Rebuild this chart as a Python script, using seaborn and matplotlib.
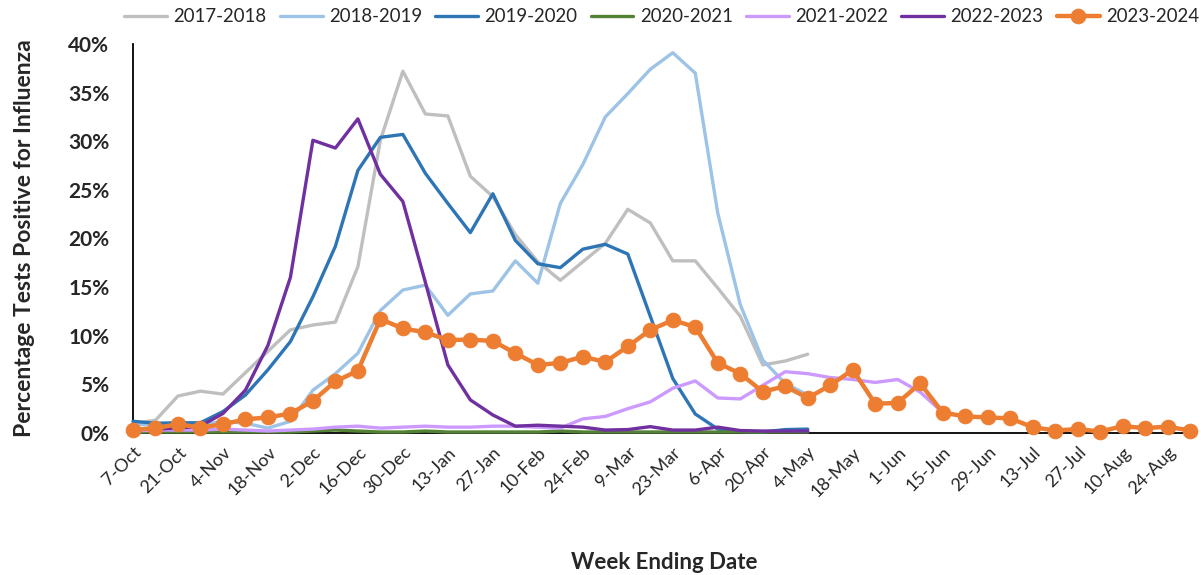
import numpy as np
import pandas as pd
import matplotlib
matplotlib.use("Agg")
import matplotlib.pyplot as plt
import seaborn as sns

weeks = ["7-Oct", "14-Oct", "21-Oct", "28-Oct", "4-Nov", "11-Nov", "18-Nov", "25-Nov",
         "2-Dec", "9-Dec", "16-Dec", "23-Dec", "30-Dec", "6-Jan", "13-Jan", "20-Jan",
         "27-Jan", "3-Feb", "10-Feb", "17-Feb", "24-Feb", "2-Mar", "9-Mar", "16-Mar",
         "23-Mar", "30-Mar", "6-Apr", "13-Apr", "20-Apr", "27-Apr", "4-May", "11-May",
         "18-May", "25-May", "1-Jun", "8-Jun", "15-Jun", "22-Jun", "29-Jun", "6-Jul",
         "13-Jul", "20-Jul", "27-Jul", "3-Aug", "10-Aug", "17-Aug", "24-Aug", "31-Aug"]

s2017_2018 = [1.0, 1.3, 3.8, 4.3, 4.0, 6.2, 8.4, 10.6, 11.1, 11.4, 17.1, 30.1, 37.2, 32.8,
              32.6, 26.4, 24.3, 20.4, 17.6, 15.7, 17.6, 19.5, 23.0, 21.6, 17.7, 17.7, 14.9,
              12.0, 7.0, 7.4, 8.1]
s2018_2019 = [0.9, 0.8, 0.7, 0.8, 1.2, 1.0, 0.5, 1.2, 4.4, 6.1, 8.2, 12.6, 14.7, 15.2,
              12.1, 14.3, 14.6, 17.7, 15.4, 23.6, 27.6, 32.5, 34.9, 37.4, 39.1, 37.0, 22.6,
              13.2, 7.5, 5.1, 3.9]
s2019_2020 = [1.2, 1.0, 1.05, 1.05, 2.2, 3.9, 6.5, 9.4, 14.0, 19.2, 27.0, 30.4, 30.7, 26.7,
              23.6, 20.6, 24.6, 19.8, 17.4, 17.0, 18.9, 19.4, 18.4, 12.0, 5.6, 1.95, 0.4,
              0.15, 0.1, 0.35, 0.4]
s2020_2021 = [0.1, 0.1, 0.1, 0.1, 0.1, 0.1, 0.1, 0.1, 0.2, 0.3, 0.2, 0.1, 0.1, 0.2, 0.1,
              0.1, 0.1, 0.1, 0.1, 0.2, 0.1, 0.1, 0.1, 0.1, 0.1, 0.1, 0.1, 0.1, 0.1, 0.1, 0.1]
s2021_2022 = [0.2, 0.3, 0.3, 0.3, 0.4, 0.3, 0.2, 0.3, 0.4, 0.6, 0.7, 0.5, 0.6, 0.7, 0.6,
              0.6, 0.7, 0.7, 0.6, 0.5, 1.45, 1.7, 2.5, 3.2, 4.6, 5.35, 3.6, 3.5, 4.9, 6.3,
              6.1, 5.7, 5.5, 5.2, 5.5, 4.2, 2.1]
s2022_2023 = [0.4, 0.4, 0.5, 0.7, 2.0, 4.4, 9.0, 16.0, 30.1, 29.3, 32.3, 26.6, 23.8, 15.5,
              7.0, 3.4, 1.85, 0.7, 0.8, 0.7, 0.6, 0.3, 0.35, 0.65, 0.3, 0.3, 0.6, 0.25,
              0.2, 0.2, 0.2]
s2023_2024 = [0.3, 0.5, 0.9, 0.55, 0.9, 1.4, 1.6, 2.0, 3.3, 5.3, 6.4, 11.7, 10.75, 10.35,
              9.56, 9.6, 9.46, 8.2, 7.0, 7.2, 7.85, 7.3, 8.9, 10.6, 11.6, 10.9, 7.2, 6.1,
              4.25, 4.8, 3.6, 4.9, 6.5, 3.0, 3.1, 5.1, 2.1, 1.7, 1.6, 1.5, 0.6, 0.25, 0.4,
              0.15, 0.7, 0.5, 0.65, 0.25]

seasons = ["2017-2018", "2018-2019", "2019-2020", "2020-2021", "2021-2022", "2022-2023", "2023-2024"]
season_values = [s2017_2018, s2018_2019, s2019_2020, s2020_2021, s2021_2022, s2022_2023, s2023_2024]
colors = ["#BFBFBF", "#9DC3E6", "#2E75B6", "#548235", "#CC99FF", "#7030A0", "#ED7D31"]

sns.set_theme(style="white")
plt.rcParams['font.family'] = ['Lato', 'DejaVu Sans']

fig = plt.figure(figsize=(12.01, 5.75), dpi=100)
ax = fig.add_axes([0.1107, 0.247, 0.884, 0.6765])

for i, (name, vals, col) in enumerate(zip(seasons, season_values, colors)):
    xs = np.arange(len(vals))
    if name == "2023-2024":
        sns.lineplot(x=xs, y=vals, ax=ax, color=col, lw=3.2, marker="o", markersize=10.5,
                     markeredgecolor=col, label=name, sort=False, zorder=10)
    else:
        sns.lineplot(x=xs, y=vals, ax=ax, color=col, lw=2.4, label=name, sort=False,
                     zorder=2 + i)

for ln in ax.lines:
    ln.set_clip_on(False)

ax.set_xlim(0, 47.2)
ax.set_ylim(0, 40)
ax.set_yticks(np.arange(0, 41, 5))
ax.set_yticklabels([f"{v}%" for v in range(0, 41, 5)], fontsize=15, fontweight="bold")
ax.set_xticks(np.arange(len(weeks)))
ax.set_xticklabels([w if k % 2 == 0 else "" for k, w in enumerate(weeks)],
                   rotation=45, ha="right", rotation_mode="anchor", fontsize=13)
ax.tick_params(axis="x", direction="out", length=5, width=1.2, color="black", pad=3)
ax.tick_params(axis="y", length=0, pad=17)

for side in ["top", "right"]:
    ax.spines[side].set_visible(False)
for side in ["left", "bottom"]:
    ax.spines[side].set_color("black")
    ax.spines[side].set_linewidth(1.3)

ax.set_xlabel("Week Ending Date", fontsize=16, fontweight="bold", labelpad=38)
ax.set_ylabel("Percentage Tests Positive for Influenza", fontsize=16.5, fontweight="bold", labelpad=24)
ax.grid(False)

handles, labels = ax.get_legend_handles_labels()
ax.get_legend().remove()
fig.legend(handles, labels, loc="upper center", bbox_to_anchor=(0.551, 1.015), ncol=7,
           frameon=False, fontsize=13.4, handlelength=2.3, columnspacing=0.7, handletextpad=0.35)

fig.savefig("out.png", dpi=100)
